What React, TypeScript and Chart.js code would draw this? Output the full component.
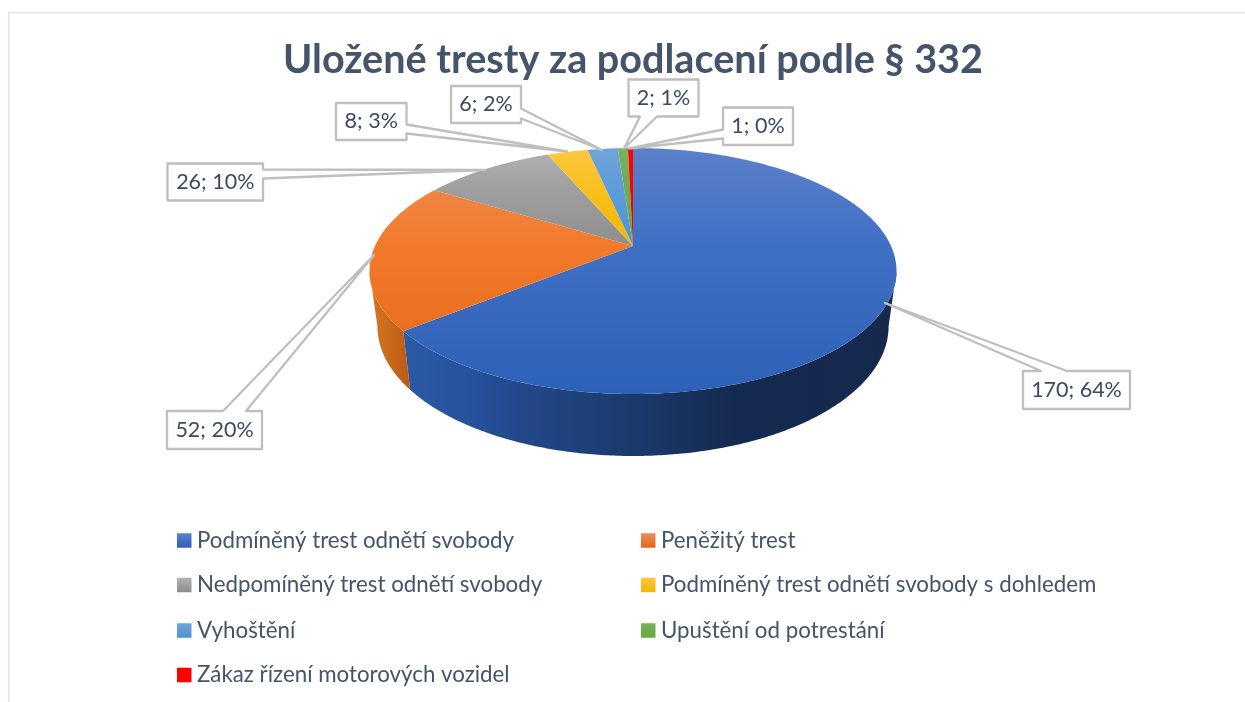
import React, { useEffect, useRef } from "react";
import { Chart, registerables } from "chart.js";

Chart.register(...registerables);

const TITLE = "Uložené tresty za podlacení podle § 332";
const categories = [
  "Podmíněný trest odnětí svobody",
  "Peněžitý trest",
  "Nedpomíněný trest odnětí svobody",
  "Podmíněný trest odnětí svobody s dohledem",
  "Vyhoštění",
  "Upuštění od potrestání",
  "Zákaz řízení motorových vozidel",
];
const counts = [170, 52, 26, 8, 6, 2, 1];
const topColors = ["#5c80ca", "#ee8c58", "#b2b2b2", "#fcc840", "#6ea4da", "#79b160", "#ff0000"];
const midColors = ["#4070c4", "#f27a2a", "#a0a0a0", "#f9c020", "#5f9cd8", "#70ac50", "#ff0000"];
const bottomColors = ["#2d60b8", "#e3671a", "#8e8e8e", "#f3b700", "#4e93d4", "#66a73d", "#ff0000"];
const sideStops: Record<number, [number, string][]> = {
  0: [[405, "#2b5aa5"], [480, "#26509a"], [520, "#23488a"], [633, "#1b3a6c"], [735, "#152a50"], [900, "#16294d"]],
  1: [[370, "#d87722"], [412, "#b75913"]],
};

const TEXT_DARK = "#3c4a5f";
const TEXT = "#44546a";
const LINE = "#bfbfbf";

// Perspective of the tilted disc, in multiples of the library's own arc radius.
const REF_RADIUS = 162.48;
const SX = 258 / REF_RADIUS;
const SY = 117.9 / REF_RADIUS;
const K = -0.2033;
const BASE_X = 0.97;
const BASE_Y = 1.054;
const BASE_DROP = 54;
const TOP_Y = 148;
const GRAD_END = [394, 394, 246, 246, 246, 246, 246];

type Callout = { box: [number, number, number, number]; side: string; a: number; b: number; tip: [number, number] };
const callouts: Callout[] = [
  { box: [1023, 371, 1130, 409], side: "top", a: 1041, b: 1067, tip: [885, 303] },
  { box: [167, 411, 262, 449], side: "top", a: 223, b: 246, tip: [374, 255] },
  { box: [167.5, 163.5, 263, 200.5], side: "right", a: 169.5, b: 178.5, tip: [485, 170] },
  { box: [336, 103, 406.5, 140], side: "right", a: 124.5, b: 133.5, tip: [567, 151.5] },
  { box: [451, 86, 521, 123], side: "right", a: 108.5, b: 118.5, tip: [602, 150] },
  { box: [628.5, 79.5, 698.5, 116.5], side: "bottom", a: 640, b: 657, tip: [624, 148.5] },
  { box: [723, 107.5, 793, 145], side: "left", a: 129.5, b: 138.5, tip: [629, 148.5] },
];

const LEGEND_COL_X = [177, 641];
const LEGEND_ROW_Y = [540.5, 585, 630.5, 675];
const LEGEND_BOX = 14.5;
const LEGEND_GAP = 5.5;
const FONT = "Lato, 'Noto Sans', sans-serif";

function project(arc: any, t: number, base: boolean): [number, number] {
  const den = 1 + K * Math.sin(t);
  const xp = (arc.outerRadius * SX * Math.cos(t)) / den;
  const yp = (arc.outerRadius * SY * Math.sin(t)) / den;
  return base ? [arc.x + BASE_X * xp, arc.y + BASE_Y * yp + BASE_DROP] : [arc.x + xp, arc.y + yp];
}

function samples(a: number, b: number): number[] {
  const n = Math.max(2, Math.ceil(Math.abs(b - a) / 0.01));
  const out: number[] = [];
  for (let i = 0; i <= n; i++) out.push(a + ((b - a) * i) / n);
  return out;
}

function drawCallout(ctx: CanvasRenderingContext2D, c: Callout) {
  const [l, t, r, b] = c.box;
  ctx.beginPath();
  ctx.moveTo(l, t);
  if (c.side === "top") {
    ctx.lineTo(c.a, t);
    ctx.lineTo(c.tip[0], c.tip[1]);
    ctx.lineTo(c.b, t);
  }
  ctx.lineTo(r, t);
  if (c.side === "right") {
    ctx.lineTo(r, c.a);
    ctx.lineTo(c.tip[0], c.tip[1]);
    ctx.lineTo(r, c.b);
  }
  ctx.lineTo(r, b);
  if (c.side === "bottom") {
    ctx.lineTo(c.b, b);
    ctx.lineTo(c.tip[0], c.tip[1]);
    ctx.lineTo(c.a, b);
  }
  ctx.lineTo(l, b);
  if (c.side === "left") {
    ctx.lineTo(l, c.b);
    ctx.lineTo(c.tip[0], c.tip[1]);
    ctx.lineTo(l, c.a);
  }
  ctx.closePath();
  ctx.fillStyle = "#ffffff";
  ctx.fill();
  ctx.strokeStyle = LINE;
  ctx.lineWidth = 2.3;
  ctx.lineJoin = "round";
  ctx.stroke();
}

const pie3d = {
  id: "pie3d",
  beforeDraw(chart: any) {
    const ctx: CanvasRenderingContext2D = chart.ctx;
    ctx.save();
    ctx.fillStyle = "#ffffff";
    ctx.fillRect(0, 0, chart.width, chart.height);
    ctx.strokeStyle = "#dfe6ee";
    ctx.lineWidth = 1.5;
    ctx.beginPath();
    ctx.moveTo(8.75, chart.height);
    ctx.lineTo(8.75, 12.75);
    ctx.lineTo(chart.width, 12.75);
    ctx.stroke();
    ctx.restore();
  },
  beforeDatasetsDraw(chart: any) {
    const ctx: CanvasRenderingContext2D = chart.ctx;
    const arcs: any[] = chart.getDatasetMeta(0).data;
    const values: number[] = chart.data.datasets[0].data;
    const total = values.reduce((s, v) => s + v, 0);
    const vis = Math.asin(-K);
    ctx.save();

    // rim
    arcs.forEach((arc, i) => {
      const a = Math.max(arc.startAngle, vis);
      const b = Math.min(arc.endAngle, Math.PI - vis);
      if (b <= a || !sideStops[i]) return;
      const ts = samples(a, b);
      ctx.beginPath();
      ts.forEach((t, j) => {
        const [x, y] = project(arc, t, false);
        j ? ctx.lineTo(x, y) : ctx.moveTo(x, y);
      });
      ts.slice().reverse().forEach((t) => {
        const [x, y] = project(arc, t, true);
        ctx.lineTo(x, y);
      });
      ctx.closePath();
      const st = sideStops[i];
      const x0 = st[0][0];
      const x1 = st[st.length - 1][0];
      const g = ctx.createLinearGradient(x0, 0, x1, 0);
      st.forEach(([x, c]) => g.addColorStop((x - x0) / (x1 - x0), c));
      ctx.fillStyle = g;
      ctx.fill();
    });

    // top face
    arcs.forEach((arc, i) => {
      ctx.beginPath();
      ctx.moveTo(arc.x, arc.y);
      samples(arc.startAngle, arc.endAngle).forEach((t) => {
        const [x, y] = project(arc, t, false);
        ctx.lineTo(x, y);
      });
      ctx.closePath();
      const g = ctx.createLinearGradient(0, TOP_Y, 0, GRAD_END[i]);
      g.addColorStop(0, topColors[i]);
      g.addColorStop(0.4, midColors[i]);
      g.addColorStop(1, bottomColors[i]);
      ctx.fillStyle = g;
      ctx.fill();
    });

    // data label callouts
    callouts.forEach((c, i) => {
      drawCallout(ctx, c);
      const [l, t, r, b] = c.box;
      ctx.fillStyle = TEXT_DARK;
      ctx.font = `21.5px ${FONT}`;
      ctx.textAlign = "center";
      ctx.textBaseline = "middle";
      ctx.fillText(`${values[i]}; ${Math.round((values[i] / total) * 100)}%`, (l + r) / 2, (t + b) / 2);
    });

    // legend, two columns filled row by row
    chart.data.labels.forEach((label: string, i: number) => {
      const x = LEGEND_COL_X[i % 2];
      const y = LEGEND_ROW_Y[Math.floor(i / 2)];
      const g = ctx.createLinearGradient(0, y - LEGEND_BOX / 2, 0, y + LEGEND_BOX / 2);
      g.addColorStop(0, topColors[i]);
      g.addColorStop(1, bottomColors[i]);
      ctx.fillStyle = g;
      ctx.fillRect(x, y - LEGEND_BOX / 2, LEGEND_BOX, LEGEND_BOX);
      ctx.fillStyle = TEXT;
      ctx.font = `22.3px ${FONT}`;
      ctx.textAlign = "left";
      ctx.textBaseline = "middle";
      ctx.fillText(label, x + LEGEND_BOX + LEGEND_GAP, y);
    });

    ctx.restore();
    return false;
  },
};

export default function App() {
  const ref = useRef<HTMLCanvasElement>(null);
  useEffect(() => {
    const chart = new Chart(ref.current!, {
      type: "pie",
      data: {
        labels: categories,
        datasets: [{ data: counts, backgroundColor: bottomColors, borderWidth: 0 }],
      },
      options: {
        animation: false,
        responsive: false,
        layout: { padding: { left: 21, right: 0, top: 0, bottom: 293.52 } },
        plugins: {
          legend: { display: false },
          tooltip: { enabled: false },
          title: {
            display: true,
            text: TITLE,
            color: TEXT,
            font: { family: FONT, size: 39.6, weight: "bold" },
            padding: { top: 36, bottom: 0 },
          },
        },
      },
      plugins: [pie3d],
    } as any);
    return () => chart.destroy();
  }, []);
  return (
    <div style={{ position: "absolute", left: 0, top: 0, width: 1245, height: 702, overflow: "hidden" }}>
      <canvas ref={ref} width={1245} height={702} style={{ display: "block" }} />
    </div>
  );
}
